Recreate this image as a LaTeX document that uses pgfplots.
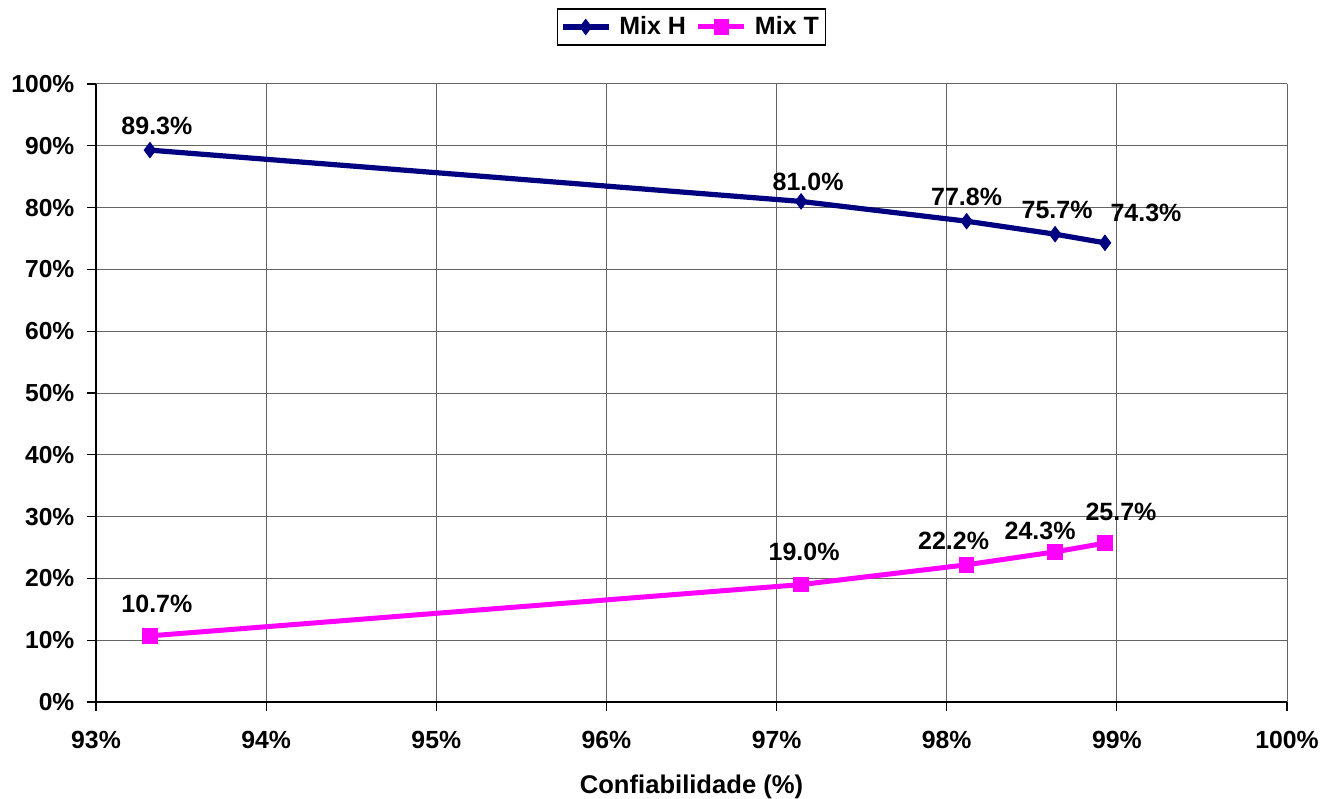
\documentclass[border=0pt]{standalone}
\usepackage{fontspec}
\setmainfont{Liberation Sans}
\usepackage{pgfplots}
\usepackage{pgfplotstable}
\pgfplotsset{compat=1.18}

\definecolor{mixH}{RGB}{0,0,128}
\definecolor{mixT}{RGB}{255,0,255}
\definecolor{gridgray}{RGB}{100,100,100}

% x = confiabilidade (%), y = share (%), dx/dy = label offset in px
\pgfplotstableread{
x      y    dx  dy
93.317 89.3  7  24
97.144 81.0  7  20
98.117 77.8  0  24
98.637 75.7  2  24
98.930 74.3 41  30
}\mixHdata

\pgfplotstableread{
x      y    dx  dy
93.317 10.7  7  32
97.144 19.0  3  33
98.117 22.2 -13 24
98.637 24.3 -15 21
98.930 25.7 16  31
}\mixTdata

\pgfplotsset{
  valuelabels/.style={
    forget plot, draw=none, mark=none,
    nodes near coords={\pgfmathprintnumber[fixed,fixed zerofill,precision=1]{\pgfplotspointmeta}\%},
    point meta=explicit,
    every node near coord/.append style={anchor=center, black,
      font=\fontsize{12.5}{14}\selectfont\bfseries},
  },
}

\begin{document}
\fontsize{12.4}{14}\selectfont\bfseries
\begin{tikzpicture}
\useasboundingbox (-48pt,-48pt) rectangle (612.5pt,351pt);
\begin{axis}[
  at={(0,0)}, anchor=origin,
  scale only axis,
  width=595.5pt, height=309pt,
  xmin=93, xmax=100, ymin=0, ymax=100,
  xtick={93,94,...,100},
  ytick={0,10,...,100},
  axis lines*=left,
  axis line style={black, line width=0.6pt},
  grid=major,
  grid style={gridgray, line width=0.5pt},
  tick align=outside,
  major tick length=4.5pt,
  tick style={black, line width=0.6pt},
  /pgf/number format/assume math mode=true,
  xticklabel={\pgfmathprintnumber[fixed,precision=0]{\tick}\%},
  yticklabel={\pgfmathprintnumber[fixed,precision=0]{\tick}\%},
  xticklabel style={font=\fontsize{12.4}{14}\selectfont\bfseries, yshift=-6pt},
  yticklabel style={font=\fontsize{12.3}{14}\selectfont\bfseries, xshift=-2pt},
  xlabel={Confiabilidade (\%)},
  xlabel style={at={(axis description cs:0.5,0)}, anchor=center, yshift=-42.5pt, font=\fontsize{12.8}{14}\selectfont\bfseries},
  legend columns=2,
  legend style={at={(rel axis cs:0.5,1)}, anchor=center, yshift=28.5pt,
    draw=black, line width=0.6pt, font=\fontsize{12.5}{14}\selectfont\bfseries,
    inner sep=1.5pt, column sep=2pt,
    /tikz/every even column/.append style={column sep=3pt}},
  legend image code/.code={
    \draw[mark repeat=2, mark phase=2, #1] plot coordinates {(0pt,0pt) (11.5pt,0pt) (23pt,0pt)};
  },
  clip=false,
]
\addplot[mixH, line width=2.6pt, mark=diamond*, mark size=3.8pt,
  mark options={solid, line width=0.5pt, fill=mixH}] table[x=x, y=y] {\mixHdata};
\addlegendentry{Mix H}
\addplot[mixT, line width=2.5pt, mark=square*, mark size=3.6pt,
  mark options={solid, line width=0.5pt, fill=mixT}] table[x=x, y=y] {\mixTdata};
\addlegendentry{Mix T}
% value labels, offset from each point (170.14 px per 1% in x, 6.18 px per 1% in y)
\addplot[valuelabels] table[x expr=\thisrow{x}+\thisrow{dx}/170.14,
  y expr=\thisrow{y}+\thisrow{dy}/6.18, meta=y] {\mixHdata};
\addplot[valuelabels] table[x expr=\thisrow{x}+\thisrow{dx}/170.14,
  y expr=\thisrow{y}+\thisrow{dy}/6.18, meta=y] {\mixTdata};
\end{axis}
\end{tikzpicture}
\end{document}
